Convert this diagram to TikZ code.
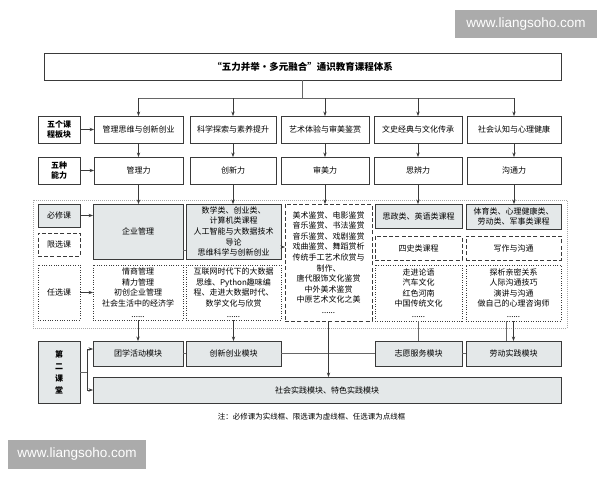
\documentclass[tikz,border=0pt]{standalone}
\usepackage{fontspec}
\setmainfont{Noto Sans CJK SC}
\newfontfamily\wmfont{Liberation Sans}
\usetikzlibrary{arrows.meta}
\definecolor{boxgray}{HTML}{E4E8E9}
\definecolor{linec}{HTML}{3A3A3A}
\definecolor{conc}{HTML}{666666}
\definecolor{wmgray}{HTML}{ABABAB}
\definecolor{framec}{HTML}{A8A8A8}
\newcommand{\mkbox}[7]{%
  \pgfmathsetmacro\bw{#5-#3}\pgfmathsetmacro\bh{#6-#4}%
  \node[#1, minimum width=\bw pt, minimum height=\bh pt] (#2) at ({(#3+#5)/2},{(#4+#6)/2}) {#7};}
\begin{document}
\begin{tikzpicture}[x=1pt,y=-1pt,
  box/.style={draw=linec, line width=0.9pt, inner sep=0.5pt, outer sep=0pt, align=center, font=\fontsize{8}{10.6}\selectfont},
  fillbox/.style={box, fill=boxgray},
  dashbox/.style={box, dash pattern=on 4pt off 2.2pt},
  dotbox/.style={box, line width=0.8pt, dash pattern=on 1pt off 1.4pt},
  framebox/.style={draw=framec, line width=0.6pt, dash pattern=on 1pt off 1pt, inner sep=0pt},
  labbox/.style={box, font=\fontsize{8}{10.6}\selectfont\bfseries},
  ln/.style={draw=conc, line width=0.7pt},
  arr/.style={draw=linec, line width=0.7pt, -{Stealth[length=4.5pt,width=3.4pt]}},
  wm/.style={fill=wmgray, text=white, inner sep=0pt, font=\wmfont\fontsize{13.5}{14}\selectfont}
]
\useasboundingbox (0,0) rectangle (600,480);
% watermarks
\mkbox{wm}{wm1}{455}{10}{597}{38}{www.liangsoho.com}
\mkbox{wm}{wm2}{8}{440}{146}{469}{www.liangsoho.com}
% outer dotted frame
\mkbox{framebox}{frame}{33}{200}{567}{328}{}
% title
\mkbox{box, font=\fontsize{9.5}{11}\selectfont\bfseries}{title}{44}{53}{561}{80}{“五力并举•多元融合”通识教育课程体系}
% row 1
\mkbox{labbox}{lab1}{38}{116}{80}{143}{五个课\\程板块}
\mkbox{box}{m1}{94}{116}{183}{143}{管理思维与创新创业}
\mkbox{box}{m2}{190}{116}{276}{143}{科学探索与素养提升}
\mkbox{box}{m3}{281}{116}{369}{143}{艺术体验与审美鉴赏}
\mkbox{box}{m4}{374}{116}{462}{143}{文史经典与文化传承}
\mkbox{box}{m5}{467}{116}{561}{143}{社会认知与心理健康}
% row 2
\mkbox{labbox}{lab2}{38}{157}{80}{184}{五种\\能力}
\mkbox{box}{a1}{94}{157}{183}{184}{管理力}
\mkbox{box}{a2}{190}{157}{276}{184}{创新力}
\mkbox{box}{a3}{281}{157}{369}{184}{审美力}
\mkbox{box}{a4}{374}{157}{462}{184}{思辨力}
\mkbox{box}{a5}{467}{157}{561}{184}{沟通力}
% course labels
\mkbox{fillbox}{bx}{38}{204}{80}{227}{必修课}
\mkbox{dashbox}{xx}{38}{233}{80}{256}{限选课}
\mkbox{dotbox}{rx}{38}{265}{80}{320}{任选课}
% column 1
\mkbox{fillbox}{c1a}{93}{204}{183}{259}{企业管理}
\mkbox{dotbox}{c1c}{93}{265}{183}{320}{情商管理\\精力管理\\初创企业管理\\社会生活中的经济学\\......}
% column 2
\mkbox{fillbox}{c2a}{186}{204}{281}{259}{数学类、创业类、\\计算机类课程\\人工智能与大数据技术\\导论\\思维科学与创新创业}
\mkbox{dotbox}{c2c}{186}{265}{281}{320}{互联网时代下的大数据\\思维、Python趣味编\\程、走进大数据时代、\\数学文化与欣赏\\......}
% column 3
\mkbox{dashbox}{c3}{285}{204}{372}{321}{美术鉴赏、电影鉴赏\\音乐鉴赏、书法鉴赏\\音乐鉴赏、戏剧鉴赏\\戏曲鉴赏、舞蹈赏析\\传统手工艺术欣赏与\\制作、\\唐代服饰文化鉴赏\\中外美术鉴赏\\中原艺术文化之美\\......}
% column 4
\mkbox{fillbox}{c4a}{375}{204}{462}{228}{思政类、英语类课程}
\mkbox{dashbox}{c4b}{375}{236}{462}{260}{四史类课程}
\mkbox{dotbox}{c4c}{375}{265}{462}{321}{走进论语\\汽车文化\\红色河南\\中国传统文化\\......}
% column 5
\mkbox{fillbox, font=\fontsize{8}{10}\selectfont}{c5a}{466}{204}{561}{229}{体育类、心理健康类、\\劳动类、军事类课程}
\mkbox{dashbox}{c5b}{466}{236}{561}{260}{写作与沟通}
\mkbox{dotbox}{c5c}{466}{265}{561}{321}{探析亲密关系\\人际沟通技巧\\演讲与沟通\\做自己的心理咨询师\\......}
% second classroom
\mkbox{fillbox, font=\fontsize{8}{12}\selectfont\bfseries}{dk}{38}{341}{80}{403}{第\\二\\课\\堂}
\mkbox{fillbox}{b1}{93}{341}{183}{366}{团学活动模块}
\mkbox{fillbox}{b2}{186}{341}{281}{366}{创新创业模块}
\mkbox{fillbox}{b4}{375}{341}{462}{366}{志愿服务模块}
\mkbox{fillbox}{b5}{466}{341}{561}{366}{劳动实践模块}
\mkbox{fillbox}{sp}{93}{377}{561}{403}{社会实践模块、特色实践模块}
% note
\node[font=\fontsize{7.5}{9}\selectfont, inner sep=0pt] (note) at (311.5,417) {注：必修课为实线框、限选课为虚线框、任选课为点线框};
% connectors top
\draw[ln] (title.south) -- ++(0,18) coordinate (hub);
\draw[ln] (m1.north |- hub) -- (m5.north |- hub);
\foreach \i in {1,...,5}{
  \draw[arr] (m\i.north |- hub) -- (m\i.north);
  \draw[arr] (m\i.south) -- (a\i.north);
}
\draw[arr] (lab1.east) -- (m1.west);
\draw[arr] (lab2.east) -- (a1.west);
\draw[arr] (a1.south) -- (a1.south |- c1a.north);
\draw[arr] (a2.south) -- (a2.south |- c2a.north);
\draw[arr] (a3.south) -- (a3.south |- c3.north);
\draw[arr] (a4.south) -- (a4.south |- c4a.north);
\draw[arr] (a5.south) -- (a5.south |- c5a.north);
\draw[arr] (bx.east) -- (bx.east -| c1a.west);
\draw[arr] (rx.east) -- (rx.east -| c1c.west);
\draw[ln] ([yshift=9pt]c1a.south east) -- ([yshift=9pt]c1a.south east -| c2a.west);
\draw[arr] ([yshift=12pt]c2a.south east) -- ([yshift=12pt]c2a.south east -| c3.west);
% connectors bottom
\draw[arr] (c1c.south) -- (b1.north);
\draw[arr] (c2c.south) -- (b2.north);
\draw[ln] (b1.east) -- (b2.west);
\draw[ln] (b2.east) -- (b4.west);
\draw[ln] (b4.east) -- (b5.west);
\draw[arr] (c3.south) -- (c3.south |- sp.north);
\draw[ln] (c4c.south) -- (b4.north);
\draw[ln] ([xshift=-7pt]c5c.south) -- ([xshift=-7pt]b5.north);
\draw[arr] (c5c.south) -- (b5.north);
\draw[ln] (dk.east) -- ++(7,0) coordinate (dkj);
\draw[arr] (dkj) |- ([yshift=4.5pt]b1.west);
\draw[arr] (dkj) |- (sp.west);
\end{tikzpicture}
\end{document}
